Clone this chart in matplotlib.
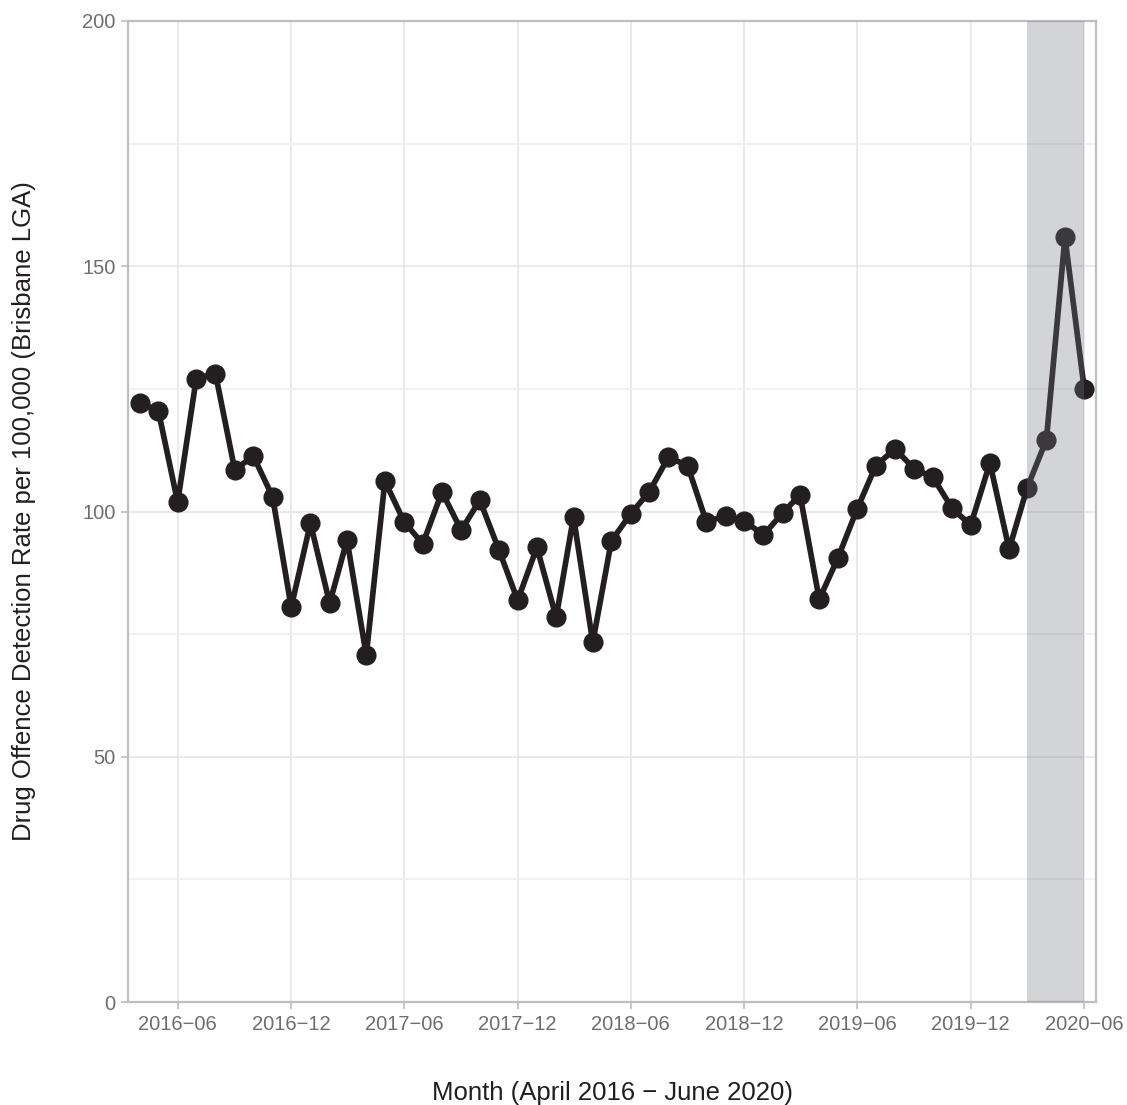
import matplotlib
matplotlib.use("Agg")
import matplotlib.pyplot as plt
import matplotlib.dates as mdates
import numpy as np
import pandas as pd

plt.rcParams['font.family'] = ['Liberation Sans', 'DejaVu Sans']

# monthly detection rate, April 2016 - June 2020
months = pd.date_range("2016-04-01", "2020-06-01", freq="MS")
rate = [122.2, 120.5, 101.9, 127.1, 128.1, 108.5, 111.3, 103.0, 80.5,
        97.6, 81.3, 94.2, 70.7, 106.2, 97.9, 93.4, 104.0, 96.2, 102.3, 92.1, 81.9,
        92.7, 78.4, 98.9, 73.3, 94.0, 99.5, 104.0, 111.1, 109.3, 97.9, 99.1, 98.1,
        95.2, 99.7, 103.4, 82.1, 90.5, 100.5, 109.3, 112.8, 108.7, 107.0, 100.7, 97.2,
        109.9, 92.3, 104.8, 114.6, 155.9, 125.0]
shade_start = pd.Timestamp("2020-03-01")
shade_end = pd.Timestamp("2020-06-01")
tick_dates = pd.date_range("2016-06-01", "2020-06-01", freq="6MS")

grey_txt = "#6d6e71"
grid_c = "#e6e6e8"
frame_c = "#bdbec0"

fig = plt.figure(figsize=(11.27, 11.05), dpi=100)
ax = fig.add_axes([128/1127, 1 - 1002/1105, (1096-128)/1127, (1002-21)/1105])

ax.plot(months, rate, color="#231f20", lw=4.1, marker="o", ms=13.5, zorder=3)
ax.axvspan(shade_start, shade_end, color="#74757c", alpha=0.31, lw=0, zorder=4)

ax.set_ylim(0, 200)
ax.set_xlim(months[0] - pd.Timedelta(days=19), months[-1] + pd.Timedelta(days=19))
ax.set_yticks([0, 50, 100, 150, 200])
ax.set_yticks([25, 75, 125, 175], minor=True)
ax.set_xticks(tick_dates)
ax.xaxis.set_major_formatter(mdates.DateFormatter("%Y\u2212%m"))

ax.grid(True, which="major", color=grid_c, lw=1.2, zorder=0)
ax.grid(True, which="minor", axis="y", color="#efeff0", lw=1.2, zorder=0)
ax.set_axisbelow(True)

for s in ax.spines.values():
    s.set_color(frame_c)
    s.set_linewidth(1.6)

ax.tick_params(which="major", length=5, width=1.2, color=frame_c, labelcolor=grey_txt,
               labelsize=14.5, pad=4)
ax.tick_params(which="minor", length=0)

ax.set_xlabel("Month (April 2016 \u2212 June 2020)", fontsize=18.5, color="#231f20", labelpad=34)
ax.set_ylabel("Drug Offence Detection Rate per 100,000 (Brisbane LGA)", fontsize=18.5,
              color="#231f20", labelpad=33)

fig.savefig("out.png", dpi=100)
